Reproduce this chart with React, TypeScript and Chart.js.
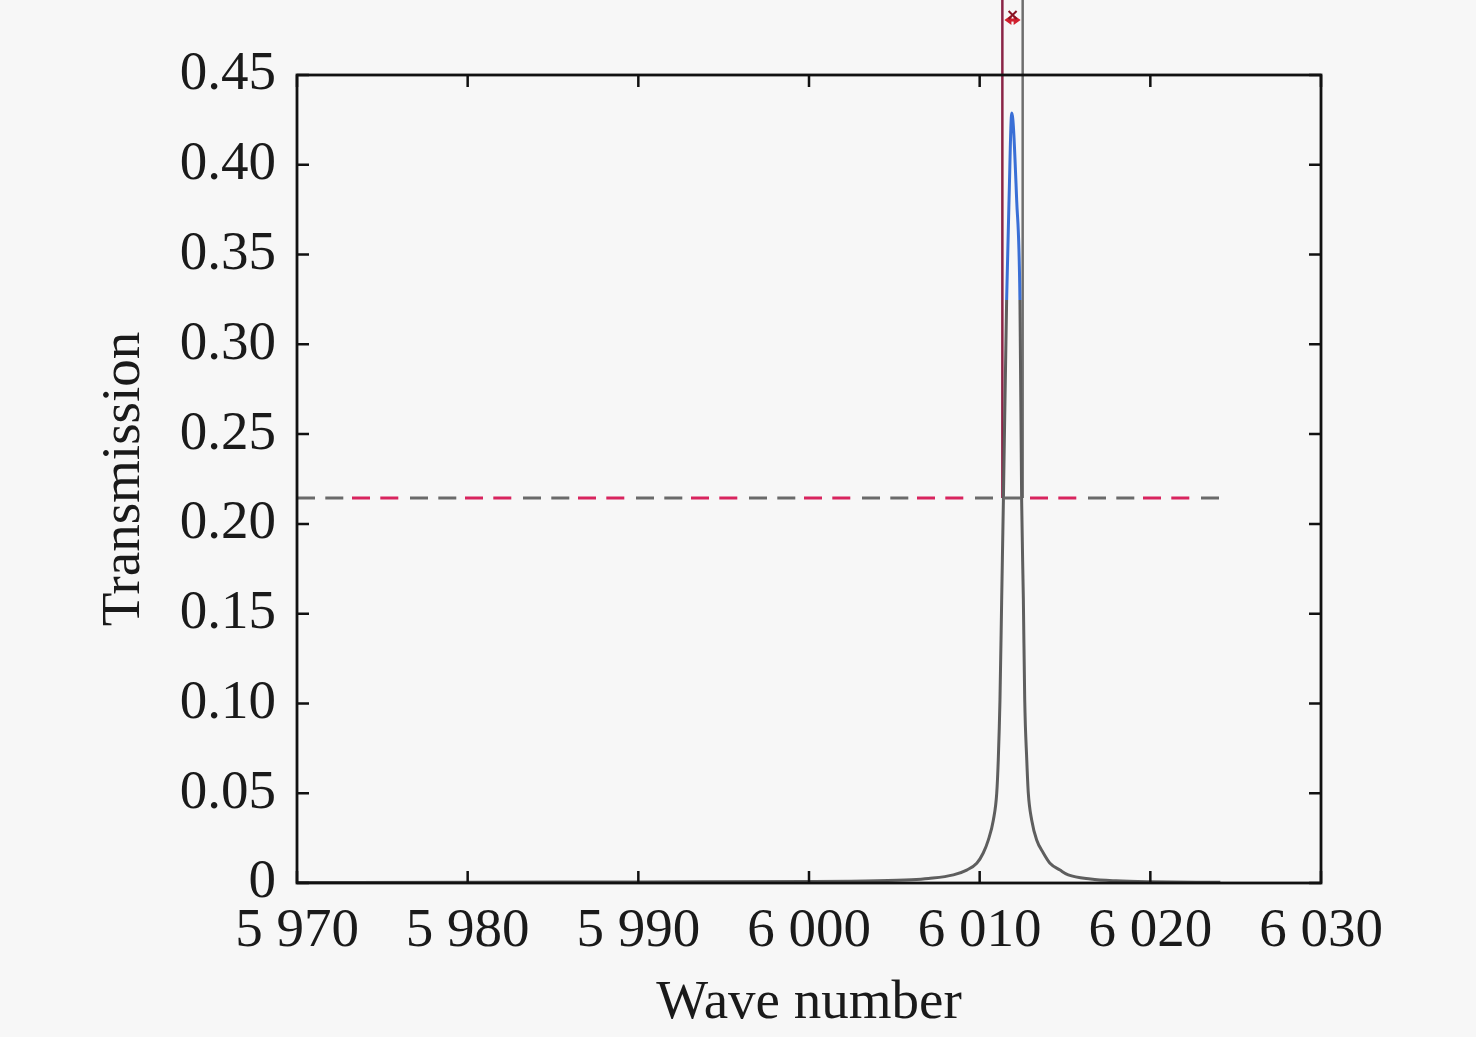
import { useEffect, useRef } from "react"
import { Chart, registerables } from "chart.js"

Chart.register(...registerables)

// curve
const waveNumbers = [
  5970, 5980, 5990, 6000, 6004, 6006, 6007, 6008.46, 6009.24, 6009.83, 6010.21, 6010.51, 6010.8,
  6011.0, 6011.09, 6011.19, 6011.29, 6011.39, 6011.58, 6011.72, 6011.88, 6012.17, 6012.36, 6012.46,
  6012.56, 6012.64, 6012.76, 6012.85, 6013.05, 6013.34, 6013.73, 6014.12, 6014.71, 6015.19, 6016.5,
  6018, 6020, 6024.1,
]
const transmission = [
  0.0003, 0.0004, 0.0006, 0.0008, 0.0012, 0.0018, 0.0025, 0.0045, 0.0072, 0.011, 0.0167, 0.024, 0.035,
  0.05, 0.0685, 0.102, 0.158, 0.213, 0.3247, 0.38, 0.4288, 0.38, 0.3247, 0.213,
  0.158, 0.102, 0.0685, 0.05, 0.035, 0.024, 0.0167, 0.011, 0.0072, 0.0045, 0.0022,
  0.0012, 0.0007, 0.0004,
]

const halfMaxLevel = 0.2144
const halfMaxRange = [5970, 6024.1]
const fwhmEdges = [6011.33, 6012.52]
const lineTop = 0.5
const arrowY = 0.4806
const arrowEnds = [6011.45, 6012.4]
const arrowCenter = 6011.93

const xTicks = [5970, 5980, 5990, 6000, 6010, 6020, 6030]

const FONT = "'Liberation Serif', 'DejaVu Serif', serif"

const fmtX = (v: number) => `${Math.floor(v / 1000)} ${String(Math.round(v % 1000)).padStart(3, "0")}`

export default function App() {
  const chartRef = useRef<HTMLCanvasElement>(null)
  const chartInstance = useRef<Chart | null>(null)

  useEffect(() => {
    document.body.style.margin = "0"
    if (!chartRef.current) return
    if (chartInstance.current) chartInstance.current.destroy()
    const ctx = chartRef.current.getContext("2d")
    if (!ctx) return

    const curve = waveNumbers.map((x, i) => ({ x, y: transmission[i] }))

    // box + inward ticks, MATLAB style, and the FWHM arrow above the axes
    const frame = {
      id: "frame",
      beforeDraw: (chart: Chart) => {
        const c = chart.ctx
        c.save()
        c.fillStyle = "#f7f7f7"
        c.fillRect(0, 0, chart.width, chart.height)
        c.restore()
      },
      afterDraw: (chart: Chart) => {
        const c = chart.ctx
        const { left, right, top, bottom } = chart.chartArea
        const xs = chart.scales.x
        const ys = chart.scales.y
        c.save()
        c.strokeStyle = "#111"
        c.lineWidth = 2.8
        c.strokeRect(left, top, right - left, bottom - top)
        c.lineWidth = 2.5
        const len = 12
        c.beginPath()
        xs.ticks.forEach((t) => {
          const px = xs.getPixelForValue(t.value)
          c.moveTo(px, bottom)
          c.lineTo(px, bottom - len)
          c.moveTo(px, top)
          c.lineTo(px, top + len)
        })
        ys.ticks.forEach((t) => {
          const py = ys.getPixelForValue(t.value)
          c.moveTo(left, py)
          c.lineTo(left + len, py)
          c.moveTo(right, py)
          c.lineTo(right - len, py)
        })
        c.stroke()

        // double arrow between the two edges
        const ay = ys.getPixelForValue(arrowY)
        const a0 = xs.getPixelForValue(arrowEnds[0])
        const a1 = xs.getPixelForValue(arrowEnds[1])
        const ac = xs.getPixelForValue(arrowCenter)
        c.strokeStyle = "#d0202e"
        c.fillStyle = "#d0202e"
        c.lineWidth = 3
        c.beginPath()
        c.moveTo(a0 + 4, ay)
        c.lineTo(a1 - 4, ay)
        c.stroke()
        c.beginPath()
        c.moveTo(a0, ay)
        c.lineTo(a0 + 7, ay - 5)
        c.lineTo(a0 + 7, ay + 5)
        c.closePath()
        c.moveTo(a1, ay)
        c.lineTo(a1 - 7, ay - 5)
        c.lineTo(a1 - 7, ay + 5)
        c.closePath()
        c.fill()
        c.strokeStyle = "#8a1424"
        c.lineWidth = 2
        c.beginPath()
        c.moveTo(ac - 4, ay - 9)
        c.lineTo(ac + 4, ay - 1)
        c.moveTo(ac + 4, ay - 9)
        c.lineTo(ac - 4, ay - 1)
        c.stroke()
        c.restore()
      },
    }

    chartInstance.current = new Chart(ctx, {
      type: "line",
      data: {
        datasets: [
          {
            label: "grey dashes",
            data: halfMaxRange.map((x) => ({ x, y: halfMaxLevel })),
            borderColor: "#6a6a6a",
            borderWidth: 3,
            borderDash: [18, 10.3, 18, 66.7],
            pointRadius: 0,
          },
          {
            label: "red dashes",
            data: halfMaxRange.map((x) => ({ x, y: halfMaxLevel })),
            borderColor: "#d8245e",
            borderWidth: 3,
            borderDash: [18, 10.3, 18, 66.7],
            borderDashOffset: 58,
            pointRadius: 0,
          },
          {
            label: "transmission",
            data: curve,
            borderColor: "#5e5e5e",
            borderWidth: 3,
            pointRadius: 0,
            cubicInterpolationMode: "monotone",
            segment: {
              borderColor: (s: any) => (s.p0.parsed.y > 0.3 && s.p1.parsed.y > 0.3 ? "#3a6fd6" : "#5e5e5e"),
            },
          },
          {
            label: "left edge",
            data: [
              { x: fwhmEdges[0], y: halfMaxLevel },
              { x: fwhmEdges[0], y: lineTop },
            ],
            borderColor: "#8a2446",
            borderWidth: 2.5,
            pointRadius: 0,
            clip: false,
          },
          {
            label: "right edge",
            data: [
              { x: fwhmEdges[1], y: halfMaxLevel },
              { x: fwhmEdges[1], y: lineTop },
            ],
            borderColor: "#6e6e6e",
            borderWidth: 2.5,
            pointRadius: 0,
            clip: false,
          },
        ],
      },
      options: {
        responsive: false,
        animation: false,
        layout: { padding: { top: 75, right: 155, bottom: 0, left: 0 } },
        plugins: {
          legend: { display: false },
          tooltip: { enabled: false },
        },
        scales: {
          x: {
            type: "linear",
            min: 5970,
            max: 6030,
            afterFit: (s: any) => {
              s.height = 154
            },
            afterBuildTicks: (s: any) => {
              s.ticks = xTicks.map((value) => ({ value }))
            },
            grid: { display: false },
            border: { display: false },
            ticks: {
              autoSkip: false,
              maxRotation: 0,
              padding: 8,
              color: "#1a1a1a",
              font: { family: FONT, size: 55 },
              callback: (v) => fmtX(Number(v)),
            },
            title: {
              display: true,
              text: "Wave number",
              color: "#1a1a1a",
              font: { family: FONT, size: 55 },
              padding: { top: 0, bottom: 0 },
            },
          },
          y: {
            min: 0,
            max: 0.45,
            afterFit: (s: any) => {
              s.width = 297
            },
            grid: { display: false },
            border: { display: false },
            ticks: {
              stepSize: 0.05,
              padding: 13,
              color: "#1a1a1a",
              font: { family: FONT, size: 55 },
              callback: (v) => (Number(v) === 0 ? "0" : Number(v).toFixed(2)),
            },
            title: {
              display: true,
              text: "Transmission",
              color: "#1a1a1a",
              font: { family: FONT, size: 55 },
              padding: { top: 92, bottom: 0 },
            },
          },
        },
      },
      plugins: [frame],
    })

    return () => {
      if (chartInstance.current) {
        chartInstance.current.destroy()
        chartInstance.current = null
      }
    }
  }, [])

  return (
    <div style={{ width: 1476, height: 1037 }}>
      <canvas ref={chartRef} width={1476} height={1037} />
    </div>
  )
}
